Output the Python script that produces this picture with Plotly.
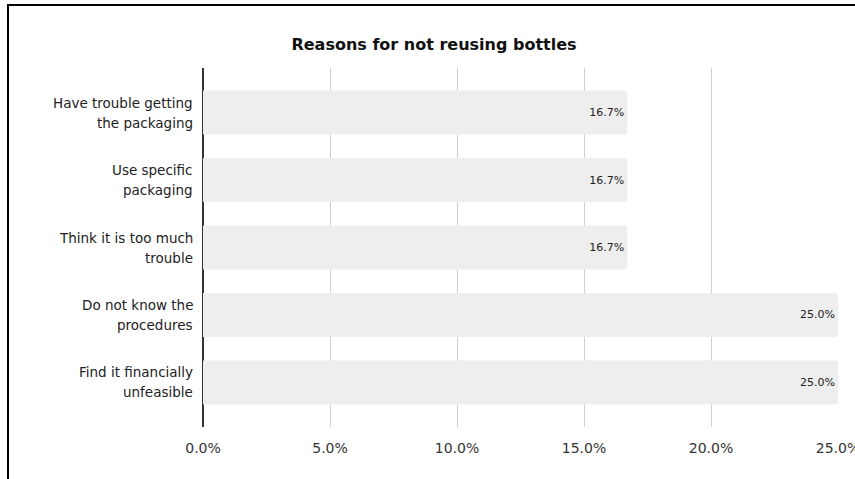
import plotly.graph_objects as go

categories = [
    "Have trouble getting<br>the packaging",
    "Use specific<br>packaging",
    "Think it is too much<br>trouble",
    "Do not know the<br>procedures",
    "Find it financially<br>unfeasible",
]
values = [0.167, 0.167, 0.167, 0.250, 0.250]
labels = ["16.7%", "16.7%", "16.7%", "25.0%", "25.0%"]
x_ticks = [0, 0.05, 0.10, 0.15, 0.20, 0.25]
x_ticklabels = ["0.0%", "5.0%", "10.0%", "15.0%", "20.0%", "25.0%"]
title = "Reasons for not reusing bottles"

W, H = 855, 479
L, R, T, B = 203, 17, 68, 52
pw, ph = W - L - R, H - T - B
FONT = "DejaVu Sans, Verdana, sans-serif"

def px_x(x):
    return (x - L) / pw

def px_y(y):
    return (H - B - y) / ph

fig = go.Figure(
    go.Bar(
        x=values,
        y=categories,
        orientation="h",
        text=labels,
        textposition="inside",
        insidetextanchor="end",
        textfont=dict(size=11, color="#222222", family=FONT),
        marker=dict(color="#eeeeee", line=dict(width=0)),
        width=0.65,
        hoverinfo="skip",
    )
)

# category labels as two-line annotations (custom line spacing)
annotations = []
for cat in categories:
    lines = cat.split("<br>")
    n = len(lines)
    for i, line in enumerate(lines):
        annotations.append(dict(
            x=0, xref="paper", xanchor="right", xshift=-8,
            y=cat, yref="y", yanchor="middle",
            yshift=(n - 1) / 2 * 20 - i * 20,
            text=line, showarrow=False,
            font=dict(size=13.5, color="#222222", family=FONT),
        ))

fig.update_layout(
    template="none",
    width=W,
    height=H,
    margin=dict(l=L, r=R, t=T, b=B, autoexpand=False),
    paper_bgcolor="white",
    plot_bgcolor="white",
    barcornerradius=3,
    font=dict(family=FONT, color="#222222"),
    title=dict(
        text="<b>" + title + "</b>",
        x=434 / W,
        xref="container",
        xanchor="center",
        y=1 - 44 / H,
        yref="container",
        yanchor="middle",
        font=dict(size=16, color="#111111", family=FONT),
    ),
    showlegend=False,
    annotations=annotations,
    shapes=[
        dict(type="line", xref="paper", yref="paper",
             x0=px_x(8), x1=px_x(8), y0=px_y(4), y1=px_y(H + 5),
             line=dict(color="black", width=2)),
        dict(type="line", xref="paper", yref="paper",
             x0=px_x(7), x1=px_x(W + 5), y0=px_y(5), y1=px_y(5),
             line=dict(color="black", width=2)),
    ],
)

fig.update_xaxes(
    range=[0, 0.25],
    tickvals=x_ticks,
    ticktext=x_ticklabels,
    showgrid=True,
    gridcolor="#d0d0d0",
    gridwidth=1,
    zeroline=True,
    zerolinecolor="#333333",
    zerolinewidth=2,
    showline=False,
    ticks="",
    tickfont=dict(size=14, color="#333333", family=FONT),
    ticklabelstandoff=11,
    ticklabeloverflow="allow",
    automargin=False,
    fixedrange=True,
)

fig.update_yaxes(
    range=[4.66, -0.66],
    showgrid=False,
    showline=False,
    zeroline=False,
    ticks="",
    showticklabels=False,
    automargin=False,
    fixedrange=True,
)

fig.write_html("out.html", config={"displayModeBar": False})
